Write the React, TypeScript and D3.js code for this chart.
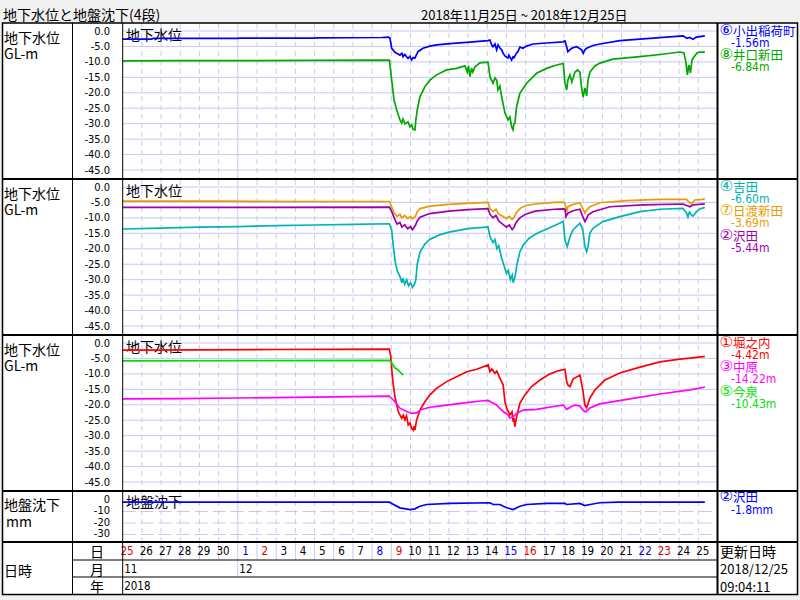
import React from 'react';
import * as d3 from 'd3';

type P = [number, number];

// ---- axis / label data ----
const DAY_LABELS = [25, 26, 27, 28, 29, 30, 1, 2, 3, 4, 5, 6, 7, 8, 9, 10, 11, 12, 13, 14, 15, 16, 17, 18, 19, 20, 21, 22, 23, 24, 25];
const DAY_KIND = ['r', 'k', 'k', 'k', 'k', 'k', 'b', 'r', 'k', 'k', 'k', 'k', 'k', 'b', 'r', 'k', 'k', 'k', 'k', 'k', 'b', 'r', 'k', 'k', 'k', 'k', 'k', 'b', 'r', 'k', 'k'];
const MONTH_LABELS: [number, string][] = [[0, '11'], [6, '12']];
const YEAR_LABEL = '2018';
const GW_TICKS = [0, -5, -10, -15, -20, -25, -30, -35, -40, -45];
const SUB_TICKS = [0, -10, -20, -30];

// ---- panel 1 ----
const koideInari: P[] = [
  [0, -2.6], [1.5, -2.6], [1.6, -2.4], [6.0, -2.4], [6.1, -2.3], [10, -2.3], [10.1, -2.2], [13.5, -2.1], [13.85, -2.0], [13.93, -2.3],
  [14.02, -5.6], [14.19, -6.9], [14.3, -7.3], [14.45, -7.8], [14.55, -7.2], [14.61, -8.3], [14.7, -7.6], [14.87, -8.9], [14.97, -8.2],
  [15.06, -9.4], [15.14, -8.6], [15.23, -8.8], [15.3, -7.8], [15.39, -6.7], [15.65, -5.6], [16.01, -4.9], [16.36, -4.5], [17.21, -4.0],
  [18.1, -3.6], [19.04, -3.1], [19.14, -2.9], [19.23, -4.5], [19.3, -5.1], [19.4, -4.2], [19.49, -6.1], [19.56, -4.5], [19.66, -5.5],
  [19.75, -6.1], [19.83, -7.2], [19.92, -8.1], [20.08, -8.8], [20.13, -7.8], [20.27, -9.4], [20.34, -8.4], [20.39, -8.7], [20.53, -7.1],
  [20.6, -6.7], [20.7, -5.2], [20.86, -5.6], [21.05, -4.9], [21.38, -4.2], [22.27, -3.8], [22.94, -3.5], [23.05, -3.2], [23.14, -5.1],
  [23.2, -6.7], [23.4, -5.6], [23.66, -5.1], [23.92, -6.1], [24.0, -7.2], [24.09, -6.1], [24.18, -5.6], [24.51, -4.7], [24.87, -4.2],
  [25.91, -3.1], [27.48, -2.4], [29.2, -1.6], [29.3, -1.9], [29.39, -2.4], [29.56, -2.1], [29.72, -2.7], [29.82, -2.3], [29.91, -2.0],
  [30.08, -1.8], [30.34, -1.56],
];
const inokuchiShinden: P[] = [
  [0, -9.7], [3, -9.6], [6, -9.6], [10, -9.5], [13.9, -9.4],
  [14.02, -15.9], [14.14, -22.3], [14.28, -25.6], [14.45, -28.8], [14.54, -29.8], [14.61, -28.5], [14.71, -30.1], [14.87, -29.4],
  [14.97, -31.0], [15.06, -30.4], [15.13, -31.8], [15.23, -32.0], [15.28, -28.8], [15.35, -25.6], [15.49, -21.3], [15.75, -18.0],
  [16.01, -15.9], [16.36, -14.2], [16.88, -12.6], [17.4, -12.1], [17.84, -11.3], [17.96, -13.3], [18.02, -11.3], [18.1, -14.8],
  [18.18, -12.0], [18.25, -13.3], [18.36, -11.6], [18.62, -10.3], [19.04, -10.1], [19.14, -14.8], [19.3, -16.9], [19.4, -15.2],
  [19.49, -15.9], [19.56, -19.1], [19.66, -17.8], [19.75, -21.3], [19.92, -26.5], [20.08, -28.8], [20.18, -27.8], [20.27, -31.0],
  [20.34, -32.0], [20.39, -30.1], [20.44, -29.8], [20.53, -24.5], [20.7, -20.2], [21.05, -16.9], [21.57, -13.7], [22.09, -12.1],
  [22.62, -11.0], [22.96, -10.5], [23.05, -16.9], [23.14, -19.1], [23.2, -15.9], [23.31, -14.2], [23.41, -16.5], [23.57, -13.3],
  [23.72, -12.6], [23.83, -13.3], [23.93, -19.1], [24.0, -21.4], [24.09, -18.4], [24.18, -21.0], [24.25, -15.9], [24.35, -13.3],
  [24.61, -11.3], [24.87, -10.4], [25.55, -9.1], [26.96, -8.3], [28.0, -7.6], [29.04, -6.8], [29.25, -7.1], [29.35, -10.0],
  [29.43, -14.2], [29.51, -11.0], [29.59, -13.6], [29.67, -9.4], [29.77, -8.4], [29.93, -7.1], [30.08, -6.8], [30.34, -6.84],
];

// ---- panel 2 ----
const yoshida: P[] = [
  [0, -13.6], [2, -13.3], [4, -13.0], [6, -12.8], [8, -12.5], [10, -12.3], [12, -12.1], [13.9, -11.9],
  [14.02, -14], [14.1, -19], [14.2, -24], [14.3, -27], [14.45, -29], [14.55, -31], [14.6, -29.5], [14.7, -31.5], [14.8, -30],
  [14.9, -32], [15.0, -31], [15.1, -32.5], [15.2, -31.5], [15.28, -30], [15.35, -25], [15.5, -21], [15.75, -18.5], [16.0, -17],
  [16.5, -15.5], [17, -14.6], [18, -13.5], [19.04, -12.9],
  [19.14, -16], [19.3, -18], [19.4, -17], [19.5, -20], [19.6, -19], [19.75, -23], [19.9, -26], [20.0, -28], [20.1, -27],
  [20.2, -30], [20.3, -28.5], [20.35, -31], [20.4, -30], [20.45, -29], [20.55, -25], [20.7, -21], [20.9, -18.5], [21.2, -16.5],
  [21.6, -15], [22.1, -13.6], [22.6, -12.2], [22.96, -11.2],
  [23.05, -17.2], [23.17, -19.3], [23.31, -16.1], [23.47, -13.9], [23.83, -11.7], [23.98, -13.9], [24.09, -19.3], [24.18, -20.9],
  [24.25, -19.3], [24.35, -14.9], [24.51, -13.4], [25.03, -11.2], [25.91, -9.6], [26.96, -8.0], [28.0, -7.2], [29.2, -6.9],
  [29.39, -8.5], [29.46, -9.7], [29.54, -8.1], [29.65, -9.1], [29.72, -9.4], [29.91, -8.0], [30.08, -7.1], [30.34, -6.6],
];
const hiwatariShinden: P[] = [
  [0, -4.6], [5, -4.6], [10, -4.7], [13.9, -4.7],
  [14.02, -6.5], [14.15, -8.5], [14.3, -9.5], [14.45, -8.8], [14.55, -10], [14.7, -9.2], [14.85, -10.2], [15.0, -9.5], [15.1, -10.3],
  [15.25, -9.6], [15.35, -8], [15.5, -7], [16, -6.2], [17, -5.6], [18, -5.3], [19.04, -5.0],
  [19.14, -7], [19.3, -8], [19.45, -7.2], [19.6, -8.8], [19.8, -9.5], [20.0, -10.2], [20.15, -9.5], [20.3, -10.5], [20.4, -9.8],
  [20.5, -8.5], [20.7, -7], [21, -6], [21.5, -5.5], [22.5, -5.0], [22.96, -4.9],
  [23.05, -5.3], [23.14, -8.0], [23.2, -6.4], [23.4, -5.8], [23.83, -5.1], [24.0, -7.2], [24.09, -8.5], [24.2, -7.4], [24.35, -6.4],
  [24.87, -5.1], [26.26, -4.4], [28.0, -4.0], [29.39, -4.0], [29.51, -4.9], [29.65, -5.3], [29.82, -4.2], [30.24, -4.0], [30.34, -3.69],
];
const sawadaGw: P[] = [
  [0, -6.6], [6, -6.6], [13.9, -6.5],
  [14.02, -8], [14.15, -10], [14.3, -12], [14.45, -11.5], [14.55, -13], [14.7, -12.2], [14.85, -13.5], [15.0, -12.8], [15.1, -13.8],
  [15.25, -12.5], [15.35, -11], [15.5, -9.8], [16, -8.6], [17, -7.8], [18, -7.3], [19.04, -7.0],
  [19.14, -8.8], [19.3, -10], [19.45, -9.2], [19.6, -11], [19.8, -12], [20.0, -13], [20.15, -12.3], [20.3, -13.8], [20.4, -13],
  [20.5, -11.5], [20.7, -10], [21, -8.8], [21.5, -7.8], [22.5, -7.2], [22.96, -7.1],
  [23.05, -7.2], [23.1, -9.6], [23.2, -8.5], [23.47, -7.7], [23.83, -7.2], [23.98, -9.6], [24.09, -11.2], [24.2, -10.0], [24.25, -9.1],
  [24.51, -8.0], [25.39, -6.4], [27.11, -5.8], [29.2, -5.5], [29.56, -6.4], [29.72, -5.8], [30.34, -5.44],
];

// ---- panel 3 ----
const horinouchi: P[] = [
  [0, -2.3], [4, -2.2], [8, -2.1], [13.9, -2.0],
  [13.97, -4.4], [14.07, -12.0], [14.19, -17.4], [14.36, -22.2], [14.54, -24.4], [14.62, -23.3], [14.71, -24.9], [14.79, -23.6],
  [14.88, -26.5], [14.97, -25.9], [15.06, -27.6], [15.14, -28.2], [15.19, -26.9], [15.23, -28.2], [15.32, -24.9], [15.49, -21.7],
  [15.75, -19.0], [16.01, -16.8], [16.36, -14.7], [16.88, -12.5], [17.4, -10.9], [17.93, -9.3], [18.45, -8.5], [19.05, -7.1],
  [19.14, -9.3], [19.24, -8.4], [19.4, -9.8], [19.5, -9.1], [19.66, -11.4], [19.83, -13.6], [19.92, -19.0], [20.01, -21.1],
  [20.18, -23.3], [20.29, -22.3], [20.35, -25.5], [20.39, -24.3], [20.44, -27.1], [20.53, -23.9], [20.7, -19.5], [20.96, -16.8],
  [21.31, -14.1], [21.75, -12.0], [22.27, -10.0], [22.7, -9.0], [23.05, -8.5], [23.14, -12.5], [23.2, -13.6], [23.31, -14.1],
  [23.47, -11.7], [23.83, -10.4], [23.98, -15.2], [24.09, -20.1], [24.18, -21.0], [24.25, -19.7], [24.35, -17.8], [24.61, -15.2],
  [25.13, -12.0], [25.91, -9.7], [26.96, -7.8], [28.0, -6.1], [29.04, -5.2], [29.56, -4.9], [30.24, -4.4], [30.34, -4.42],
];
const nakahara: P[] = [
  [0, -18.1], [3, -18.0], [6, -17.8], [10, -17.5], [13.9, -17.2],
  [13.93, -17.4], [14.19, -19.0], [14.45, -21.1], [14.8, -22.2], [15.06, -22.8], [15.32, -22.6], [15.58, -21.5], [16.01, -20.8],
  [16.88, -20.1], [17.93, -19.3], [18.79, -18.7], [19.05, -18.6], [19.49, -20.1], [19.83, -22.2], [20.09, -23.3], [20.18, -24.3],
  [20.35, -23.9], [20.53, -22.8], [20.88, -21.7], [21.57, -21.5], [22.62, -20.4], [22.96, -20.1], [23.14, -21.5], [23.31, -20.8],
  [23.57, -20.1], [23.83, -20.4], [23.98, -21.7], [24.14, -22.3], [24.35, -21.0], [24.87, -19.7], [26.44, -18.1], [28.0, -16.5],
  [29.56, -15.2], [30.24, -14.4], [30.34, -14.22],
];
const imaizumi: P[] = [
  [0, -5.8], [6, -5.7], [13.9, -5.6], [13.97, -6.0], [14.19, -8.1], [14.36, -8.7], [14.45, -9.4], [14.62, -10.43],
];

// ---- panel 4 (subsidence, mm) ----
const sawadaSub: P[] = [
  [0, -1.9], [13.9, -1.9], [14.02, -3.0], [14.45, -6.8], [14.97, -8.3], [15.23, -7.7], [15.49, -5.4], [15.84, -3.9], [17.06, -3.0],
  [19.14, -2.4], [19.31, -3.9], [19.66, -3.9], [20.01, -6.8], [20.35, -8.3], [20.7, -5.4], [21.05, -3.9], [22.09, -3.0], [23.05, -3.0],
  [23.14, -3.9], [23.83, -3.0], [24.09, -4.8], [24.35, -3.9], [24.87, -2.4], [25.83, -1.8], [30.34, -1.8],
];

// ---- legends ----
const PANEL1_MARKS = ['⑥', '⑧'];
const PANEL1_NAMES = ['小出稲荷町', '井口新田'];
const PANEL1_VALUES = ['-1.56m', '-6.84m'];
const PANEL2_MARKS = ['④', '⑦', '②'];
const PANEL2_NAMES = ['吉田', '日渡新田', '沢田'];
const PANEL2_VALUES = ['-6.60m', '-3.69m', '-5.44m'];
const PANEL3_MARKS = ['①', '③', '⑤'];
const PANEL3_NAMES = ['堀之内', '中原', '今泉'];
const PANEL3_VALUES = ['-4.42m', '-14.22m', '-10.43m'];
const PANEL4_MARKS = ['②'];
const PANEL4_NAMES = ['沢田'];
const PANEL4_VALUES = ['-1.8mm'];

const JP = "'Noto Sans CJK JP', 'Noto Sans', sans-serif";
const NUM = "'DejaVu Sans Condensed', 'Liberation Sans Narrow', 'DejaVu Sans', sans-serif";
const GRID = '#c8c8f4';

const X0 = 122.7;
const X1 = 717.5;
const PANEL_TOPS = [23, 179, 335];
const PH = 156;
const P4_TOP = 491;
const P4_BOT = 542;
const ROW1 = 560;
const ROW2 = 577;
const BOTTOM = 594.5;

function LegendName({ y, mark, name, color }: { y: number; mark: string; name: string; color: string }) {
  return (
    <text x={719.5} y={y} fontFamily={JP} fontSize={12.5} dominantBaseline="central" fill={color}>
      <tspan fontSize={15} fontFamily="'DejaVu Sans', sans-serif">{mark}</tspan>
      <tspan>{name}</tspan>
    </text>
  );
}

export default function App() {
  const x = d3.scaleLinear().domain([0, 31]).range([X0, X1]);
  const days = d3.range(0, 32);

  const panels = [
    { series: [koideInari, inokuchiShinden], colors: ['#0000ff', '#00a800'], marks: PANEL1_MARKS, names: PANEL1_NAMES, values: PANEL1_VALUES },
    { series: [yoshida, hiwatariShinden, sawadaGw], colors: ['#00b4b4', '#e89c00', '#a000a8'], marks: PANEL2_MARKS, names: PANEL2_NAMES, values: PANEL2_VALUES },
    { series: [horinouchi, nakahara, imaizumi], colors: ['#ff0000', '#ff00ff', '#00e000'], marks: PANEL3_MARKS, names: PANEL3_NAMES, values: PANEL3_VALUES },
  ];

  const vGrid = (top: number, bot: number, key: string) =>
    days.slice(1, 31).map((d) => (
      <line key={key + d} x1={x(d)} x2={x(d)} y1={top} y2={bot} stroke={GRID} strokeWidth={1}
        strokeDasharray={d === 6 ? undefined : '5,4'} />
    ));

  const y4 = d3.scaleLinear().domain([0, -30]).range([P4_TOP + 9, P4_TOP + 43.5]);
  const line4 = d3.line<P>().x((d) => x(d[0])).y((d) => y4(d[1]));

  return (
    <svg width={800} height={600} style={{ position: 'absolute', left: 0, top: 0, background: '#f0f0f0' }}
      xmlns="http://www.w3.org/2000/svg">
      <defs>
        {PANEL_TOPS.map((t, i) => (
          <clipPath id={'clip' + i} key={i}><rect x={X0} y={t + 1} width={X1 - X0} height={PH - 2} /></clipPath>
        ))}
        <clipPath id="clip4"><rect x={X0} y={P4_TOP + 1} width={X1 - X0} height={P4_BOT - P4_TOP - 2} /></clipPath>
      </defs>
      <rect x={0} y={0} width={800} height={600} fill="#f0f0f0" />
      <text x={3} y={13.5} fontFamily={JP} fontSize={14} dominantBaseline="central" fill="#000">地下水位と地盤沈下(4段)</text>
      <text x={421} y={14} fontFamily={JP} fontSize={13} dominantBaseline="central" fill="#000">2018年11月25日 ~ 2018年12月25日</text>

      <rect x={2.5} y={23} width={795} height={BOTTOM - 23} fill="#fff" />

      {panels.map((p, i) => {
        const top = PANEL_TOPS[i];
        const y = d3.scaleLinear().domain([0, -45]).range([top + 8, top + 147]);
        const ln = d3.line<P>().x((d) => x(d[0])).y((d) => y(d[1]));
        return (
          <g key={'p' + i}>
            {GW_TICKS.map((v) => (
              <g key={v}>
                <line x1={X0} x2={X1} y1={y(v)} y2={y(v)} stroke={GRID} strokeWidth={1} />
                <text x={110} y={y(v)} textAnchor="end" dominantBaseline="central" fontFamily={NUM} fontSize={11} fill="#000">{v.toFixed(1)}</text>
              </g>
            ))}
            {vGrid(top + 1, top + PH, 'v' + i)}
            <text x={4} y={top + 13.5} fontFamily={JP} fontSize={14} dominantBaseline="central">地下水位</text>
            <text x={4} y={top + 30} fontFamily={JP} fontSize={14} dominantBaseline="central">GL-m</text>
            <text x={126} y={top + 11} fontFamily={JP} fontSize={14} dominantBaseline="central">地下水位</text>
            <g clipPath={`url(#clip${i})`}>
              {p.series.map((s, j) => (
                <path key={j} d={ln(s) || ''} fill="none" stroke={p.colors[j]} strokeWidth={1.7} strokeLinejoin="miter" />
              ))}
            </g>
            {p.names.map((n, j) => (
              <g key={n}>
                <LegendName y={top + 6.7 + 24.5 * j} mark={p.marks[j]} name={n} color={p.colors[j]} />
                <text x={731} y={top + 19.7 + 24.5 * j} fontFamily={NUM} fontSize={12} dominantBaseline="central" fill={p.colors[j]}>{p.values[j]}</text>
              </g>
            ))}
          </g>
        );
      })}

      {/* panel 4 */}
      {SUB_TICKS.map((v) => (
        <g key={'s' + v}>
          {v !== 0 && <line x1={X0} x2={X1} y1={y4(v)} y2={y4(v)} stroke={GRID} strokeWidth={1} strokeDasharray="13,5" />}
          <text x={110} y={y4(v) - 1} textAnchor="end" dominantBaseline="central" fontFamily={NUM} fontSize={11}>{v.toString()}</text>
        </g>
      ))}
      {vGrid(P4_TOP + 1, P4_BOT, 'v4')}
      <text x={4} y={P4_TOP + 13} fontFamily={JP} fontSize={14} dominantBaseline="central">地盤沈下</text>
      <text x={6} y={P4_TOP + 30} fontFamily={JP} fontSize={14} dominantBaseline="central">mm</text>
      <text x={126} y={P4_TOP + 10} fontFamily={JP} fontSize={14} dominantBaseline="central">地盤沈下</text>
      <g clipPath="url(#clip4)">
        <path d={line4(sawadaSub) || ''} fill="none" stroke="#0000ff" strokeWidth={1.7} />
      </g>
      {PANEL4_NAMES.map((n, j) => (
        <g key={n}>
          <LegendName y={P4_TOP + 5} mark={PANEL4_MARKS[j]} name={n} color="#0000ff" />
          <text x={731} y={P4_TOP + 19} fontFamily={NUM} fontSize={12} dominantBaseline="central" fill="#0000ff">{PANEL4_VALUES[j]}</text>
        </g>
      ))}

      {/* date rows */}
      {days.slice(1, 31).map((d) => (
        <line key={'dr' + d} x1={x(d)} x2={x(d)} y1={P4_BOT} y2={d === 6 ? ROW2 : ROW1} stroke={GRID} strokeWidth={1} />
      ))}
      {DAY_LABELS.map((lab, i) => (
        <text key={'dl' + i} x={x(i) + 11} y={551} textAnchor="end" dominantBaseline="central" fontFamily={NUM} fontSize={11.5}
          fill={DAY_KIND[i] === 'r' ? '#e00000' : DAY_KIND[i] === 'b' ? '#0000d0' : '#000'}>{lab}</text>
      ))}
      {MONTH_LABELS.map(([d, lab]) => (
        <text key={'m' + lab} x={x(d) + 1.5} y={568.5} dominantBaseline="central" fontFamily={NUM} fontSize={11.5}>{lab}</text>
      ))}
      <text x={x(0) + 1.5} y={586} dominantBaseline="central" fontFamily={NUM} fontSize={11.5}>{YEAR_LABEL}</text>
      <text x={97} y={551} textAnchor="middle" dominantBaseline="central" fontFamily={JP} fontSize={14}>日</text>
      <text x={97} y={568.5} textAnchor="middle" dominantBaseline="central" fontFamily={JP} fontSize={14}>月</text>
      <text x={97} y={586} textAnchor="middle" dominantBaseline="central" fontFamily={JP} fontSize={14}>年</text>
      <text x={4} y={570} dominantBaseline="central" fontFamily={JP} fontSize={14}>日時</text>
      <text x={720} y={551} dominantBaseline="central" fontFamily={JP} fontSize={14}>更新日時</text>
      <text x={720} y={568.5} dominantBaseline="central" fontFamily={JP} fontSize={13}>2018/12/25</text>
      <text x={720} y={586} dominantBaseline="central" fontFamily={JP} fontSize={13}>09:04:11</text>

      {/* frame */}
      <line x1={72} x2={717.5} y1={ROW1} y2={ROW1} stroke="#000" strokeWidth={1} />
      <line x1={72} x2={717.5} y1={ROW2} y2={ROW2} stroke="#000" strokeWidth={1} />
      <line x1={72.5} x2={72.5} y1={23} y2={BOTTOM} stroke="#000" strokeWidth={1} />
      <line x1={X0} x2={X0} y1={23} y2={BOTTOM} stroke="#000" strokeWidth={1} />
      <line x1={X1} x2={X1} y1={23} y2={BOTTOM} stroke="#000" strokeWidth={2} />
      {[179, 335, 491, 542].map((yy) => (
        <line key={'h' + yy} x1={2} x2={798} y1={yy} y2={yy} stroke="#000" strokeWidth={2.2} />
      ))}
      <rect x={2.5} y={23} width={795} height={BOTTOM - 23} fill="none" stroke="#000" strokeWidth={1.5} />
    </svg>
  );
}
